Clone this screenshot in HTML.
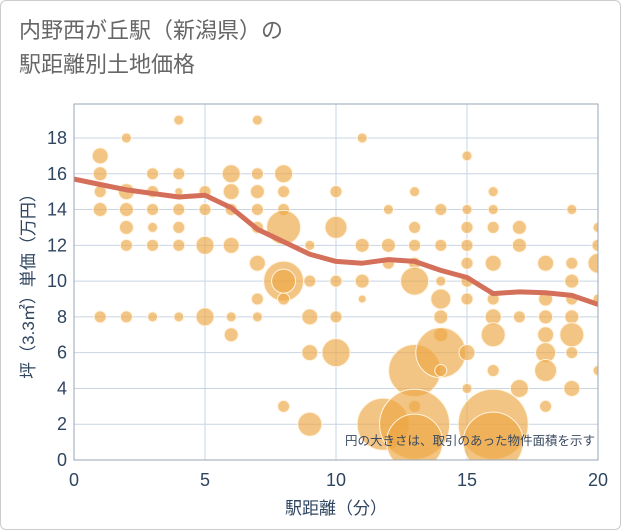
<!DOCTYPE html>
<html><head><meta charset="utf-8"><style>
body{margin:0;background:#fff;}
#wrap{position:relative;width:619px;height:528px;border:1px solid #ccc;border-radius:6px;overflow:hidden;background:#fff;font-family:"Liberation Sans","Noto Sans CJK JP",sans-serif;}
#title{position:absolute;left:18px;top:13px;font-size:22px;line-height:34px;color:#666;}
</style></head><body>
<div id="wrap">
<div id="title">内野西が丘駅（新潟県）の<br>駅距離別土地価格</div>
<svg id="chart" width="621" height="530" style="position:absolute;left:0;top:0"></svg>
</div>
<script>
const xTicks=[0,5,10,15,20];
const yTicks=[0,2,4,6,8,10,12,14,16,18];
const bubbleX=[1,1,1,1,1, 2,2,2,2,2,2, 3,3,3,3,3,3, 4,4,4,4,4,4,4, 5,5,5,5, 6,6,6,6,6,6, 7,7,7,7,7,7,7,7, 8,8,8,8,8,8,8,8, 9,9,9,9,9, 10,10,10,10,10, 11,11,11,11, 12,12,12,11.8, 13,13,13,13,13,13,13,13,13, 14,14,14,14,14,14,14,14, 15,15,15,15,15,15,15,15,15, 16,16,16,16,16,16,16,16,16,16, 17,17,17,17, 18,18,18,18,18,18,18, 19,19,19,19,19,19,19,19, 20,20,20,20,20];
const bubbleY=[17,16,15,14,8, 18,15,14,13,12,8, 16,15,14,13,12,8, 19,16,15,14,13,12,8, 15,14,12,8, 16,15,14,12,8,7, 19,16,15,14,13,11,9,8, 16,15,14,13,10,10,9,3, 12,10,8,6,2, 15,13,10,8,6, 18,12,10,9, 14,12,11,2, 15,13,12,11,10,5,3,2,1, 14,12,10,9,8,7,6,5, 17,14,13,12,11,10,9,6,4, 15,14,13,11,9,8,7,5,2,1, 13,12,8,4, 11,9,8,7,6,5,3, 14,11,10,9,8,7,6,4, 13,12,11,9,5];
const bubbleSize=[8,7,6,7,6, 5,8,7,7,6,6, 6,6,6,5,6,5, 5,6,4,6,6,6,5, 6,6,9,9, 9,8,6,8,5,7, 5,6,7,6,6,8,6,5, 9,6,6,17,20,12,6,6, 5,6,8,8,12, 6,11,6,6,14, 5,7,7,4, 5,7,6,26, 5,6,6,6,14,26,6,35,28, 6,6,5,10,7,7,25,6, 5,5,6,6,6,6,6,8,5, 5,5,6,8,6,8,12,6,35,30, 7,7,6,9, 8,7,7,8,10,11,6, 5,6,7,6,7,12,6,8, 5,6,10,5,5];
const lineX=[0,1,2,3,4,5,6,7,8,9,10,11,12,13,14,15,16,17,18,19,20];
const lineY=[15.7,15.4,15.1,14.9,14.7,14.8,14.1,12.9,12.2,11.5,11.1,11.0,11.2,11.1,10.6,10.2,9.3,9.4,9.35,9.2,8.7];
const L=73,R=597,T=103,B=459;
const sx=v=>L+v/20*(R-L);
const syy=v=>B-v*17.89;
const svg=document.getElementById('chart');
const NS='http://www.w3.org/2000/svg';
function mk(t,a){const e=document.createElementNS(NS,t);for(const k in a)e.setAttribute(k,a[k]);svg.appendChild(e);return e;}
const defs=document.createElementNS(NS,'defs');defs.innerHTML='<clipPath id="cp"><rect x="73" y="103" width="524" height="356"/></clipPath>';svg.appendChild(defs);
for(const v of yTicks){if(v===0)continue;const g=mk('line',{x1:L,x2:R,y1:syy(v),y2:syy(v),stroke:'#c9d4e3','stroke-width':1});

}
for(const v of xTicks){if(v===0||v===20)continue;const g=mk('line',{x1:sx(v),x2:sx(v),y1:T,y2:B,stroke:'#c9d4e3','stroke-width':1});

}
const gb=document.createElementNS(NS,'g');gb.setAttribute('clip-path','url(#cp)');svg.appendChild(gb);
for(let i=0;i<bubbleX.length;i++){const c=document.createElementNS(NS,'circle');
c.setAttribute('cx',sx(bubbleX[i]));c.setAttribute('cy',syy(bubbleY[i]));c.setAttribute('r',bubbleSize[i]);
c.setAttribute('fill','#eda642');c.setAttribute('fill-opacity','0.65');c.setAttribute('stroke','#fff4e0');c.setAttribute('stroke-width','1');


gb.appendChild(c);}
const pl=document.createElementNS(NS,'polyline');
pl.setAttribute('points',lineX.map((x,i)=>sx(x)+','+syy(lineY[i])).join(' '));
pl.setAttribute('fill','none');pl.setAttribute('stroke','#d4705a');pl.setAttribute('stroke-width','5');pl.setAttribute('stroke-linejoin','round');


gb.appendChild(pl);
const fr=mk('rect',{x:L,y:T,width:R-L,height:B-T,fill:'none',stroke:'#9aa5b5','stroke-width':1});


for(const v of yTicks){const t=mk('text',{x:L-7,y:syy(v)+6,'text-anchor':'end','font-size':18,fill:'#2f4560'});t.textContent=v;

}
for(const v of xTicks){const t=mk('text',{x:sx(v),y:B+26,'text-anchor':'middle','font-size':18,fill:'#2f4560'});t.textContent=v;

}
const xt=mk('text',{x:335,y:513,'text-anchor':'middle','font-size':17,fill:'#2f4560'});xt.textContent='駅距離（分）';


const yt=mk('text',{x:0,y:0,'text-anchor':'middle','font-size':17,fill:'#2f4560',transform:'translate(33,281) rotate(-90)'});yt.textContent='坪（3.3㎡）単価（万円）';


const note=mk('text',{x:594,y:444,'text-anchor':'end','font-size':12.5,fill:'#3a4a60'});note.textContent='円の大きさは、取引のあった物件面積を示す';


</script>
</body></html>
